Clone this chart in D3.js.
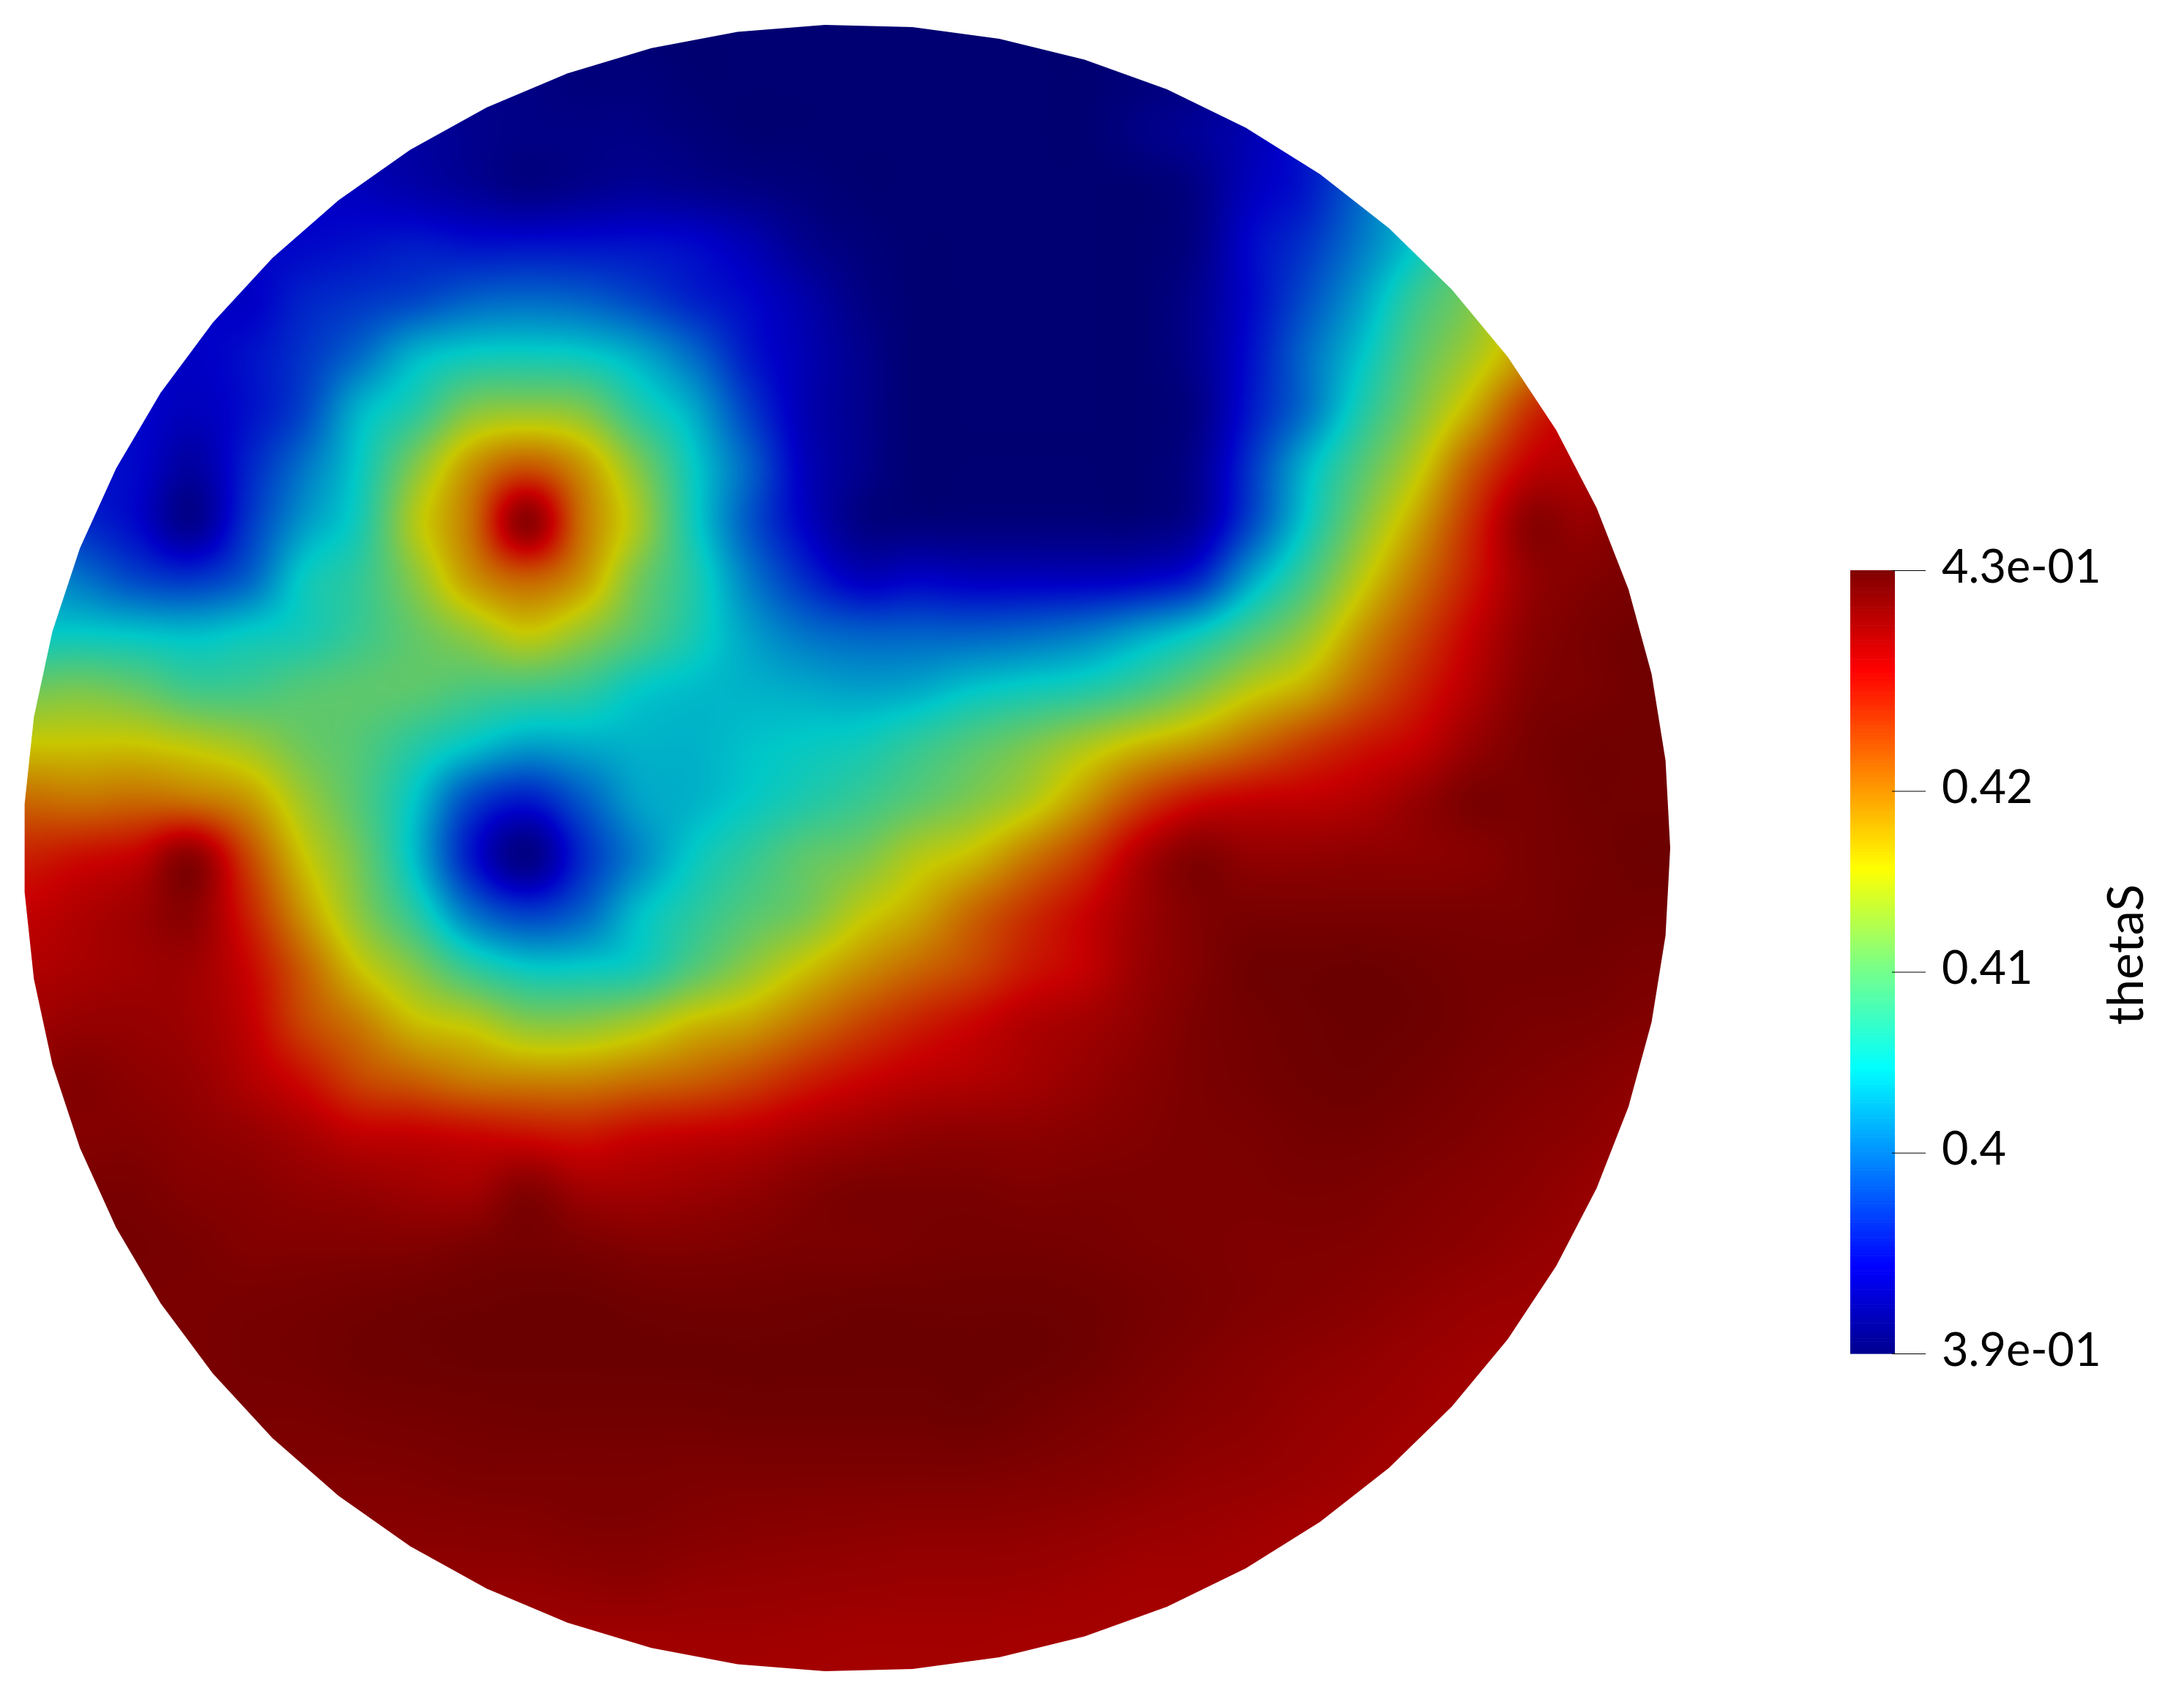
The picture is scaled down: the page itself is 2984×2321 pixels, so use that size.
<!DOCTYPE html>
<html><head><meta charset="utf-8">
<script src="https://cdnjs.cloudflare.com/ajax/libs/d3/7.8.5/d3.min.js"></script>
<style>
html,body{margin:0;padding:0;background:#fff;width:2984px;height:2321px;overflow:hidden}
canvas,svg{position:absolute;left:0;top:0}
</style></head><body>
<canvas id="field" width="2984" height="2321"></canvas>
<svg id="legend" width="2984" height="2321"></svg>
<script>
// ---- data: thetaS x 1000, on a regular 31 x 31 lattice
const thetaSRows = [
[394,394,394,393,393,392,392,391,390.5,390,389.5,389,389,389,389,389,389,389,389,389,390,391,392,394,398,404,410,416,422,426,428],
[394,394,394,393,393,392,392,391,390.5,390,389.5,389.5,389,389,389,389,389,389,389,389,389.5,390,392,394,398,404,410,416,422,426,428],
[394,394,394,394,393,393,392,391.5,390.5,390,390,390,389.5,389,389,389,389,389,389,389,390,391,392.5,395,399,404,410,416,422,426,428],
[394,394,394,394,394,393.5,393,392,391,390,390.5,391,390.5,390,389.5,389,389,389,389,389,389,390,393,395,399.5,405,411,417,422,426,428],
[394,394,394,394,394,394,394.5,395,394.5,394.5,394.5,394.5,394,392.5,390.5,389.5,389,389,389,389,389,390,394,396.5,400.5,405,411,417,422,426,428],
[394,394,394,394,393.5,395.5,396.5,397.5,399,399.5,399,397.5,395.5,394,392,390,389,389,389,389,389,390.5,394,398,402.5,408,412,418,423,426,428],
[394,394,394,393.5,394.5,396.5,399.5,403.5,405.2,405.5,405,403,399.5,395,392.5,390.5,389,389,389,389,389,390.5,394.5,399.5,404.5,410,414,419,424,427,429],
[394,394,394,393,394.5,397.5,403.5,407,412,413,412,407,403,397,392.5,390.5,389,389,389,389,389,390,395,400,406.5,412,417.5,424,427,428,429],
[396,394.5,394,391.5,395.5,400,405,412,418.5,422,418.5,412,405,399,393,390.5,389,389,389,389,389,390.5,396.5,403.5,409.5,415,422,427,428,429,430],
[398,396,394,390.5,396.5,402,406,414.5,420.5,430,420.5,414,405.5,398.5,393.5,390,389.5,389.5,389.5,389.5,389.5,391,397.5,405,412,418,424.5,430,429.5,431,431],
[402,400,397.5,396.5,399,405,407.5,412.5,418.5,421.5,418.5,411.5,406.5,400.5,396,393,393.5,393,393,393,393.5,395.5,402.5,408.5,415,420.5,425.5,429.5,430.5,431,431],
[405,405,404.5,404,405,406,408,410.5,413,415.5,413,409.5,406,402.5,400,399,399,399,399.5,400.5,402.5,405,409,413,418.5,423,427,430,431,431.5,431.5],
[411,411.5,410.5,408.5,408.5,409.5,410,410,409,408.5,407.5,405,404,403.5,403,402.5,403,404.5,405.5,406.5,408.5,411.5,415,417.5,421.5,425,428,430.5,431,431.5,431.5],
[416,416,416,415,413.5,411,409.5,407,404.5,402.5,403,403.5,403.5,404.3,405,405.7,407.5,409.5,411.5,414,416.5,418.5,421,423.5,425.5,427,429.5,431,431.5,431.5,431.5],
[421,420.5,421,420.5,418.5,413.5,409.5,404.5,397.5,395,398.5,402.5,403.5,405,406.5,408,410,412,414.5,418.5,423,426,427,427.3,428,429.5,431,431,431.5,431.5,431.5],
[425,426,427,430,423,416,411,404,395,390,396,401,405,407.5,410,411.5,414.5,416.5,420,423.5,428,430.5,429.7,429.7,429.9,430,430.3,431,431.3,431.7,431.7],
[427,428,429,430,425,418.5,412.5,407,400,397,399,404,407,409.5,411.5,415,417.5,421,424,426.5,429,430.6,431,431,431,431,431,431,431.4,431.4,431.4],
[428,428.5,429,429,426.5,421.5,416,412,407.5,405,405,406,409.5,412.8,416,418.8,421,423,425.5,427,429.3,430.6,431.6,431.7,431.8,431.6,431.3,431.3,431.3,431,431],
[429,429.5,429.5,429,427.2,423,420,416.5,415,412.5,412.5,414,416.5,418,420.5,423,425,426.5,428,428.8,429.8,430.9,431.4,431.7,431.8,431.7,431.3,431,430.9,430.6,430.5],
[430,430.5,430,429.5,428,426,423,421.5,420,419.5,419.5,420.5,421.5,423,425,426.5,427.5,428,428.7,429.5,430.3,430.9,431.3,431.6,431.7,431.4,431,430.7,430.4,430,430],
[430.5,430.5,430.5,430,429.5,428.5,427.2,427,426.5,426,425.5,426.5,427,427.5,428.5,429.2,429.8,430,430,430.3,430.6,430.9,431,431.3,431.3,431,430.7,430.3,430,429.5,429.5],
[431,431,431,430.5,430.3,429.8,429.5,429,428.8,430.5,429,428.8,429.2,429.7,430.5,431,431,431,430.8,430.9,430.9,430.9,430.9,431,430.9,430.6,430.3,430,429.5,429,429],
[431.2,431.2,431.2,431,430.6,430.6,430.6,430.6,431,431.3,431,430.6,430.6,430.8,431,431,431.2,431.3,431.3,431.2,431,430.9,430.7,430.7,430.6,430.3,430,429.6,429.3,428.8,428.8],
[431,431,431,431,431.1,431.2,431.4,431.6,431.7,431.8,431.8,431.6,431.5,431.5,431.6,431.7,431.7,431.7,431.7,431.6,431.3,431,430.7,430.5,430.2,429.8,429.4,429.2,428.8,428.8,428.8],
[431,431,431,431,431.2,431.3,431.6,431.7,431.8,431.8,431.8,431.8,431.8,431.8,431.8,431.8,431.8,431.8,431.8,431.6,431.1,430.7,430.3,430,429.7,429.3,429,428.8,428.8,428.8,428.8],
[431,431,431,431,431,431,431.2,431.3,431.4,431.5,431.5,431.5,431.5,431.6,431.6,431.6,431.6,431.7,431.4,431,430.7,430.3,430,429.6,429.3,429,428.7,428.7,428.7,428.7,428.7],
[430.7,430.7,430.7,430.7,430.7,430.7,430.7,430.8,431,431,431,431,430.9,430.9,430.9,430.9,430.9,430.9,430.7,430.5,430.2,429.8,429.6,429.3,429,428.7,428.7,428.7,428.7,428.7,428.7],
[430.3,430.3,430.3,430.3,430.3,430.3,430.3,430.3,430.4,430.5,430.7,430.7,430.5,430.3,430.2,430.1,430,430,429.9,429.7,429.4,429.2,429,428.8,428.7,428.7,428.7,428.7,428.7,428.7,428.7],
[429.7,429.7,429.7,429.7,429.7,429.7,429.7,429.7,429.7,429.7,429.9,430,429.7,429.6,429.5,429.4,429.3,429.3,429.2,429,428.8,428.8,428.7,428.7,428.7,428.7,428.7,428.7,428.7,428.7,428.7],
[429,429,429,429,429,429,429,429,429,429,429,429,429,429,428.9,428.8,428.8,428.8,428.7,428.7,428.7,428.7,428.7,428.7,428.7,428.7,428.7,428.7,428.7,428.7,428.7],
[428.7,428.7,428.7,428.7,428.7,428.7,428.7,428.7,428.7,428.7,428.7,428.7,428.7,428.7,428.7,428.7,428.7,428.7,428.7,428.7,428.7,428.7,428.7,428.7,428.7,428.7,428.7,428.7,428.7,428.7,428.7]
];
const thetaSRange = [0.3889, 0.4322];
const tickValues = [0.3889, 0.40, 0.41, 0.42, 0.4322];
const tickLabels = ["3.9e-01", "0.4", "0.41", "0.42", "4.3e-01"];
const legendTitle = "thetaS";
const jetPositions = [0, 0.111, 0.365, 0.5, 0.62, 0.873, 1];
const jetColours = ["#00008f", "#0000ff", "#00ffff", "#80ff80", "#ffff00", "#ff0000", "#800000"];
const polygonSides = 59;
const surfaceShade = 0.784;   // the surface is lit, the legend is not

thetaSRows.forEach((r, i) => { if (r.length !== 31) throw new Error("row " + i + " has " + r.length); });

// ---- layout
const W = 2984, H = 2321;
const disc = { cx: 1157, cy: 1158.5, r: 1125 };
const bar = { x: 2528, w: 61, top: 779, bottom: 1849 };

const colX = d3.scaleLinear().domain([0, thetaSRows[0].length - 1]).range([34.3, 34.3 + 30 * 76.12]);
const rowY = d3.scaleLinear().domain([0, thetaSRows.length - 1]).range([28.5, 28.5 + 30 * 76.12]);

const position = d3.scaleLinear().domain(thetaSRange).range([0, 1]).clamp(true);
const jet = d3.scaleLinear().domain(jetPositions).range(jetColours).interpolate(d3.interpolateRgb).clamp(true);

const lut = d3.range(2048).map(i => {
  const c = d3.rgb(jet(i / 2047));
  return [c.r * surfaceShade, c.g * surfaceShade, c.b * surfaceShade];
});

function cr(a, b, c, d, t) {
  return b + 0.5 * t * (c - a + t * (2 * a - 5 * b + 4 * c - d + t * (3 * (b - c) + d - a)));
}
const nR = thetaSRows.length, nC = thetaSRows[0].length;
function sample(px, py) {
  const fx = Math.min(nC - 1.0001, Math.max(0, colX.invert(px)));
  const fy = Math.min(nR - 1.0001, Math.max(0, rowY.invert(py)));
  const ix = Math.floor(fx), iy = Math.floor(fy), tx = fx - ix, ty = fy - iy;
  const v = [];
  for (let j = -1; j <= 2; j++) {
    const row = thetaSRows[Math.max(0, Math.min(nR - 1, iy + j))];
    v.push(cr(row[Math.max(0, ix - 1)], row[ix], row[Math.min(nC - 1, ix + 1)], row[Math.min(nC - 1, ix + 2)], tx));
  }
  return cr(v[0], v[1], v[2], v[3], ty) / 1000;
}

// ---- draw the surface
const off = document.createElement("canvas");
off.width = W; off.height = H;
const octx = off.getContext("2d");
const img = octx.createImageData(W, H);
const x0 = Math.floor(disc.cx - disc.r) - 2, x1 = Math.ceil(disc.cx + disc.r) + 2;
const y0 = Math.floor(disc.cy - disc.r) - 2, y1 = Math.ceil(disc.cy + disc.r) + 2;
for (let y = y0; y < y1; y++) {
  for (let x = x0; x < x1; x++) {
    const dx = x - disc.cx, dy = y - disc.cy;
    if (dx * dx + dy * dy > (disc.r + 3) * (disc.r + 3)) continue;
    const c = lut[Math.round(position(sample(x + 0.5, y + 0.5)) * 2047)];
    const k = (y * W + x) * 4;
    img.data[k] = c[0]; img.data[k + 1] = c[1]; img.data[k + 2] = c[2]; img.data[k + 3] = 255;
  }
}
octx.putImageData(img, 0, 0);

const ctx = document.getElementById("field").getContext("2d");
const angle = d3.scaleLinear().domain([0, polygonSides]).range([0, 2 * Math.PI]);
const outline = d3.range(polygonSides).map(i => [
  disc.cx + disc.r * Math.cos(angle(i)),
  disc.cy - disc.r * Math.sin(angle(i))
]);
const path = new Path2D(d3.line()(outline) + "Z");
ctx.save();
ctx.clip(path);
ctx.drawImage(off, 0, 0);
ctx.restore();

// ---- legend
const svg = d3.select("#legend");
const barY = d3.scaleLinear().domain(thetaSRange).range([bar.bottom, bar.top]);
const steps = d3.range(256);
const stepH = (bar.bottom - bar.top) / steps.length;
svg.append("g").selectAll("rect").data(steps).join("rect")
  .attr("x", bar.x).attr("width", bar.w)
  .attr("y", d => bar.bottom - (d + 1) * stepH)
  .attr("height", stepH + 0.6)
  .attr("fill", d => jet((d + 0.5) / steps.length));

const axis = d3.axisRight(barY)
  .tickValues(tickValues)
  .tickSize(46)
  .tickPadding(22)
  .tickFormat((d, i) => tickLabels[i]);
const gAxis = svg.append("g").attr("transform", `translate(${bar.x + bar.w - 4},0)`).call(axis);
gAxis.select(".domain").remove();
gAxis.selectAll(".tick line").attr("stroke", "#000").attr("stroke-width", 1);
gAxis.selectAll(".tick text")
  .attr("font-family", "Lato, 'Noto Sans', sans-serif")
  .attr("font-weight", 400)
  .attr("font-size", 63)
  .attr("fill", "#000")
  .attr("dy", null)
  .attr("y", 16);

svg.append("text")
  .attr("transform", "translate(2928,1304) rotate(-90)")
  .attr("text-anchor", "middle")
  .attr("font-family", "Lato, 'Noto Sans', sans-serif")
  .attr("font-size", 68)
  .attr("fill", "#000")
  .text(legendTitle);
</script>
</body></html>
